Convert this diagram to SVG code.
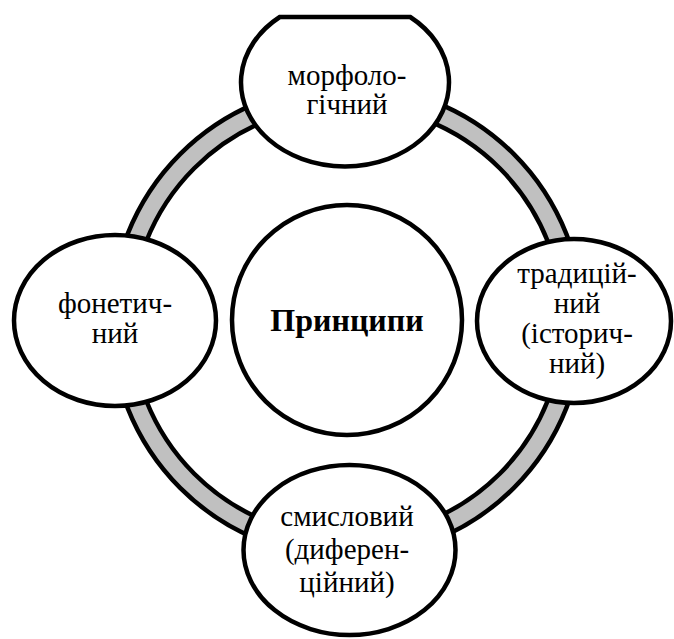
<svg xmlns="http://www.w3.org/2000/svg" width="674" height="639" viewBox="0 0 674 639">
  <style>
    .node { fill: #ffffff; stroke: #000000; stroke-width: 4.5; }
    .lbl { font-family: 'Liberation Serif', 'Times New Roman', serif; font-size: 29px; fill: #000000; text-anchor: middle; }
    .title { font-weight: bold; font-size: 32px; }
  </style>
  <rect width="674" height="639" fill="#ffffff"/>

  <!-- grey ring linking the four principles -->
  <g id="connectors">
    <circle cx="347" cy="321" r="226" fill="none" stroke="#000000" stroke-width="24.5"/>
    <circle cx="347" cy="321" r="226" fill="none" stroke="#c0c0c0" stroke-width="15.5"/>
  </g>

  <g id="center">
    <circle class="node" cx="347" cy="320" r="115"/>
    <text class="lbl title" x="347" y="331">Принципи</text>
  </g>

  <g id="top">
    <!-- flattened top edge where the shape meets the drawing area -->
    <path class="node" d="M279.8 17 L410.2 17 A104 84 0 1 1 279.8 17 Z"/>
    <text class="lbl" x="347" y="85">морфоло-<tspan x="347" dy="29">гічний</tspan></text>
  </g>

  <g id="right">
    <ellipse class="node" cx="574" cy="321" rx="97" ry="82"/>
    <text class="lbl" x="577" y="283">традицій-<tspan x="577" dy="30">ний</tspan><tspan x="577" dy="30">(історич-</tspan><tspan x="577" dy="30">ний)</tspan></text>
  </g>

  <g id="bottom">
    <ellipse class="node" cx="349.5" cy="550" rx="106" ry="85"/>
    <text class="lbl" x="347" y="526">смисловий<tspan x="347" dy="33">(диферен-</tspan><tspan x="347" dy="33">ційний)</tspan></text>
  </g>

  <g id="left">
    <ellipse class="node" cx="115" cy="320.5" rx="101" ry="85.5"/>
    <text class="lbl" x="115" y="313">фонетич-<tspan x="115" dy="30">ний</tspan></text>
  </g>
</svg>
